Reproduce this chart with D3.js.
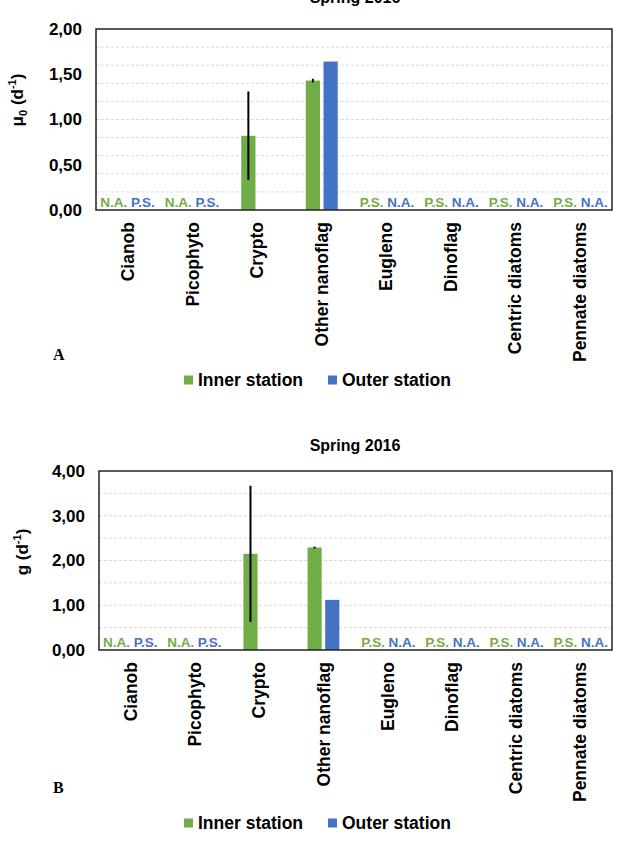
<!DOCTYPE html>
<html lang="en">

<head>
    <meta charset="UTF-8">
    <title>Spring 2016 grazing experiments</title>
    <script src="https://cdn.jsdelivr.net/npm/d3@7"></script>
</head>

<body>
    <script>
        // data
        const categories = ["Cianob", "Picophyto", "Crypto", "Other nanoflag", "Eugleno", "Dinoflag", "Centric diatoms", "Pennate diatoms"];
        const series = ["Inner station", "Outer station"];
        const colors = ["#70AD47", "#4472C4"];

        const muInner = [null, null, 0.82, 1.43, null, null, null, null];
        const muInnerErr = [null, null, 0.49, 0.02, null, null, null, null];
        const muOuter = [null, null, null, 1.64, null, null, null, null];

        const gInner = [null, null, 2.15, 2.29, null, null, null, null];
        const gInnerErr = [null, null, 1.52, 0.02, null, null, null, null];
        const gOuter = [null, null, null, 1.12, null, null, null, null];

        const innerNotes = ["N.A.", "N.A.", "", "", "P.S.", "P.S.", "P.S.", "P.S."];
        const outerNotes = ["P.S.", "P.S.", "", "", "N.A.", "N.A.", "N.A.", "N.A."];

        const muTicks = [0, 0.5, 1, 1.5, 2];
        const gTicks = [0, 1, 2, 3, 4];

        const width = 618, height = 841;
        const font = "'Liberation Sans', Arial, sans-serif";
        const comma = d3.formatLocale({ decimal: ",", thousands: ".", grouping: [3], currency: ["", ""] }).format(".2f");

        const svg = d3.select("body").append("svg").attr("width", width).attr("height", height)
            .style("font-family", font);

        function panel(p) {
            const x0 = d3.scaleBand().domain(categories).range([p.left, p.right]);
            const bw = x0.bandwidth();
            const x1 = d3.scaleBand().domain(series).range([bw * 0.252, bw * 0.748]).paddingInner(0.2);
            const y = d3.scaleLinear().domain([0, p.max]).range([p.bottom, p.top]);

            // gridlines
            svg.append("g")
                .selectAll("line")
                .data(y.ticks(p.max / p.gridStep).filter(d => d > 0 && d < p.max))
                .join("line")
                .attr("x1", p.left).attr("x2", p.right)
                .attr("y1", d => y(d)).attr("y2", d => y(d))
                .attr("stroke", "#d9d9d9").attr("stroke-width", 1)
                .attr("stroke-dasharray", "3,2");

            // y tick labels
            svg.append("g")
                .selectAll("text")
                .data(p.ticks)
                .join("text")
                .attr("x", p.left - 14)
                .attr("y", d => y(d))
                .attr("dy", "0.35em")
                .attr("text-anchor", "end")
                .attr("font-size", 17).attr("font-weight", "bold")
                .text(d => comma(d));

            // bars
            const rows = categories.map((c, i) => ({ c, i }));
            p.values.forEach((vals, s) => {
                svg.append("g")
                    .selectAll("rect")
                    .data(rows.filter(r => vals[r.i] != null))
                    .join("rect")
                    .attr("x", r => x0(r.c) + x1(series[s]))
                    .attr("width", x1.bandwidth())
                    .attr("y", r => y(vals[r.i]))
                    .attr("height", r => y(0) - y(vals[r.i]))
                    .attr("fill", colors[s]);
            });

            // error bars (inner station only)
            svg.append("g")
                .selectAll("line")
                .data(rows.filter(r => p.err[r.i] != null))
                .join("line")
                .attr("x1", r => x0(r.c) + x1(series[0]) + x1.bandwidth() / 2)
                .attr("x2", r => x0(r.c) + x1(series[0]) + x1.bandwidth() / 2)
                .attr("y1", r => y(p.values[0][r.i] + p.err[r.i]))
                .attr("y2", r => y(p.values[0][r.i] - p.err[r.i]))
                .attr("stroke", "#000").attr("stroke-width", 2);

            // N.A. / P.S. notes
            [innerNotes, outerNotes].forEach((notes, s) => {
                svg.append("g")
                    .selectAll("text")
                    .data(rows)
                    .join("text")
                    .attr("x", r => x0(r.c) + bw / 2 + (s === 0 ? -1 : 1) * bw * 0.226)
                    .attr("y", p.bottom - 3)
                    .attr("text-anchor", "middle")
                    .attr("font-size", 13.5).attr("font-weight", "bold")
                    .attr("fill", colors[s])
                    .text(r => notes[r.i]);
            });

            // plot frame
            svg.append("rect")
                .attr("x", p.left).attr("y", p.top)
                .attr("width", p.right - p.left).attr("height", p.bottom - p.top)
                .attr("fill", "none").attr("stroke", "#222").attr("stroke-width", 1.5);

            // category labels
            svg.append("g")
                .selectAll("text")
                .data(categories)
                .join("text")
                .attr("transform", d => `translate(${x0(d) + bw / 2},${p.bottom + 12}) rotate(-90)`)
                .attr("dy", "0.35em")
                .attr("text-anchor", "end")
                .attr("font-size", 17.5).attr("font-weight", "bold")
                .text(d => d);

            // title
            svg.append("text")
                .attr("x", 355).attr("y", p.titleY)
                .attr("text-anchor", "middle")
                .attr("font-size", 16).attr("font-weight", "bold")
                .text("Spring 2016");

            // y axis title
            const yt = svg.append("text")
                .attr("transform", `translate(${p.yTitleX},${p.yTitleY}) rotate(-90)`)
                .attr("text-anchor", "middle")
                .attr("dy", "0.35em")
                .attr("font-size", 17).attr("font-weight", "bold");
            yt.append("tspan").text(p.sym);
            if (p.sub) {
                yt.append("tspan").attr("font-size", 11).attr("dy", 4).text(p.sub);
                yt.append("tspan").attr("dy", -4).text(" (d");
            } else {
                yt.append("tspan").text(" (d");
            }
            yt.append("tspan").attr("font-size", 11).attr("dy", -7).text("-1");
            yt.append("tspan").attr("dy", 7).text(")");

            // panel letter
            svg.append("text")
                .attr("x", 53).attr("y", p.letterY)
                .attr("font-family", "'Liberation Serif', 'Times New Roman', serif")
                .attr("font-size", 16).attr("font-weight", "bold")
                .text(p.letter);

            // legend
            const lg = svg.append("g").selectAll("g")
                .data(series)
                .join("g")
                .attr("transform", (d, i) => `translate(${[184, 328][i]},${p.legendY})`);
            lg.append("rect")
                .attr("x", 0).attr("y", -4.5)
                .attr("width", 9).attr("height", 9)
                .attr("fill", (d, i) => colors[i]);
            lg.append("text")
                .attr("x", 14).attr("dy", "0.35em")
                .attr("font-size", 17.5).attr("font-weight", "bold")
                .text(d => d);
        }

        panel({
            left: 96, right: 612, top: 29, bottom: 210, max: 2, gridStep: 0.25, ticks: muTicks,
            values: [muInner, muOuter], err: muInnerErr,
            titleY: 3, yTitleX: 17, yTitleY: 100, sym: "μ", sub: "0",
            letter: "A", letterY: 360, legendY: 380
        });

        panel({
            left: 99, right: 612, top: 471, bottom: 650, max: 4, gridStep: 0.5, ticks: gTicks,
            values: [gInner, gOuter], err: gInnerErr,
            titleY: 451, yTitleX: 22, yTitleY: 552, sym: "g", sub: null,
            letter: "B", letterY: 793, legendY: 823
        });
    </script>
    <style>
        * {
            margin: 0;
            padding: 0;
        }
    </style>
</body>

</html>
